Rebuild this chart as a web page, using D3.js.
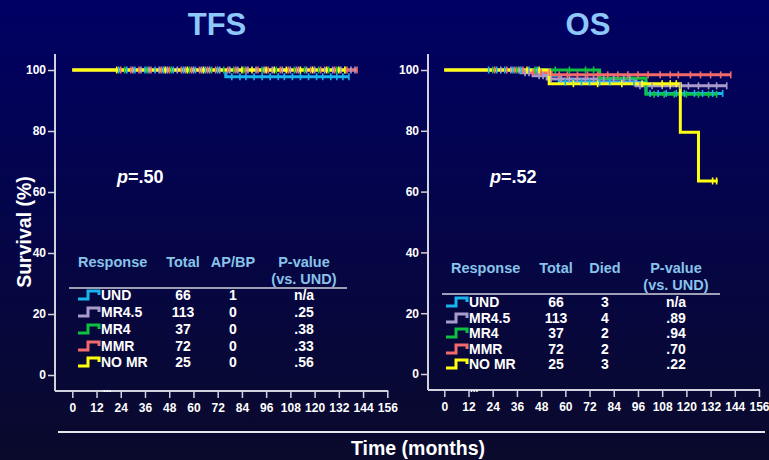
<!DOCTYPE html>
<html><head><meta charset="utf-8">
<script src="https://cdn.jsdelivr.net/npm/d3@7"></script>
<style>
html,body{margin:0;padding:0;background:#000050;}
svg{display:block;}
text{font-family:"Liberation Sans",Arial,sans-serif;font-weight:bold;}
</style></head><body>
<svg id="c" width="769" height="460"></svg>
<script>
// ---------- DATA ----------
const seriesNames = ["UND","MR4.5","MR4","MMR","NO MR"];
const seriesColors = ["#19b4ec","#a99ccc","#10c040","#f26a6a","#ffff10"];
const monthTicks = [0,12,24,36,48,60,72,84,96,108,120,132,144,156];
const survivalTicks = [0,20,40,60,80,100];

// TFS Kaplan-Meier steps [month, survival %]
const tfsSteps = [
  [[0,100],[76,97.8]],
  [[0,100]],
  [[0,100]],
  [[0,100]],
  [[0,100]]
];
const tfsEnd = [137,140,135,141,135];
const tfsCensor = [
  [23,27,31,36,41,45,50,55,61,66,72,79,83,86,90,94,98,102,105,109,113,117,121,124,128,131,134,137],
  [30,34,38,43,47,52,56,60,64,68,73,78,82,87,91,95,99,104,108,112,116,120,125,129,133,138,140],
  [26,37,49,58,69,75,80,85,94,101,110,115,122,127,131,135],
  [24,29,33,39,44,48,54,59,63,67,71,77,81,86,92,97,103,107,111,118,123,130,136,141],
  [22,46,57,65,84,89,96,100,106,113,119,126,132,135]
];

// OS Kaplan-Meier steps
const osSteps = [
  [[0,100],[50,98.3],[57,96.0],[100,92.3]],
  [[0,100],[38,99.1],[44,98.1],[51,97.0],[95,94.8]],
  [[0,100],[77,97.3],[100,92.0]],
  [[0,100],[42,99.2],[53,98.4]],
  [[0,100],[52,95.5],[117,79.5],[126,63.5]]
];
const osEnd = [138,140,135,142,135.5];
const osCensor = [
  [22,26,30,34,38,42,46,60,64,68,72,77,82,88,94,102,106,110,115,119,124,128,133,138],
  [28,33,37,40,42,47,49,53,58,62,66,70,74,79,84,89,92,97,103,108,112,117,121,126,131,135,140],
  [24,36,45,55,62,70,74,104,109,114,120,126,131,135],
  [25,31,35,39,44,48,52,57,61,66,71,76,81,86,91,96,101,107,112,116,122,127,132,137,142],
  [41,47,64,76,88,98,108,112,115,133,135]
];

// Tables
const tfsTotals = ["66","113","37","72","25"];
const tfsEvents = ["1","0","0","0","0"];
const tfsPvals = ["n/a",".25",".38",".33",".56"];
const osTotals = ["66","113","37","72","25"];
const osDied = ["3","4","2","2","3"];
const osPvals = ["n/a",".89",".94",".70",".22"];

// ---------- DRAW ----------
const svg = d3.select("#c");
const defs = svg.append("defs");
const g = defs.append("linearGradient").attr("id","bg").attr("x1",0).attr("y1",0).attr("x2",0).attr("y2",1);
g.append("stop").attr("offset","0%").attr("stop-color","#000064");
g.append("stop").attr("offset","100%").attr("stop-color","#0a0a2c");
svg.append("rect").attr("width",769).attr("height",460).attr("fill","url(#bg)");

const axisColor = "#d2d2de";
const headColor = "#88c4ea";

function panel(cfg){
  const x = d3.scaleLinear().domain([0,156]).range([cfg.x0, cfg.x1]);
  const y = d3.scaleLinear().domain([0,100]).range([cfg.y0, cfg.y100]);
  const root = svg.append("g");

  root.append("text").attr("x",cfg.titleX).attr("y",35).attr("text-anchor","middle")
    .attr("fill","#8ec8fa").style("font-size","31px").text(cfg.title);

  root.append("line").attr("x1",cfg.ax).attr("x2",cfg.ax).attr("y1",54).attr("y2",cfg.axY)
    .attr("stroke",axisColor).attr("stroke-width",2);
  root.append("line").attr("x1",cfg.ax).attr("x2",x(156)+1).attr("y1",cfg.axY).attr("y2",cfg.axY)
    .attr("stroke",axisColor).attr("stroke-width",2);

  const xa = root.append("g").attr("transform",`translate(0,${cfg.axY})`)
    .call(d3.axisBottom(x).tickValues(monthTicks).tickSize(7).tickPadding(5).tickFormat(d3.format("d")));
  xa.select(".domain").remove();
  xa.selectAll("line").attr("stroke",axisColor).attr("stroke-width",1.5);
  xa.selectAll("text").attr("fill","#fff").style("font-size","12px").style("font-family","Liberation Sans, Arial").style("font-weight","bold");

  const ya = root.append("g").attr("transform",`translate(${cfg.ax},0)`)
    .call(d3.axisLeft(y).tickValues(survivalTicks).tickSize(7).tickPadding(2));
  ya.select(".domain").remove();
  ya.selectAll("line").attr("stroke",axisColor).attr("stroke-width",1.5);
  ya.selectAll("text").attr("fill","#fff").style("font-size","12px").style("font-family","Liberation Sans, Arial").style("font-weight","bold");

  const line = d3.line().x(d=>x(d[0])).y(d=>y(d[1])).curve(d3.curveStepAfter);
  function survAt(steps,t){ let s=steps[0][1]; steps.forEach(p=>{ if(p[0]<=t) s=p[1]; }); return s; }
  seriesNames.forEach((n,i)=>{
    const steps = cfg.steps[i];
    const pts = steps.concat([[cfg.end[i], steps[steps.length-1][1]]]);
    root.append("path").attr("d",line(pts)).attr("fill","none").attr("stroke",seriesColors[i]).attr("stroke-width",3);
  });
  seriesNames.forEach((n,i)=>{
    root.append("g").selectAll("line").data(cfg.censor[i]).join("line")
      .attr("x1",d=>x(d)).attr("x2",d=>x(d))
      .attr("y1",d=>y(survAt(cfg.steps[i],d))-3.5).attr("y2",d=>y(survAt(cfg.steps[i],d))+3.5)
      .attr("stroke",seriesColors[i]).attr("stroke-width",1.6);
  });

  const pt = root.append("text").attr("x",cfg.pX).attr("y",183).attr("fill","#fff").style("font-size","18px");
  pt.append("tspan").style("font-style","italic").text("p");
  pt.append("tspan").text(cfg.pText);

  const t = cfg.table;
  const hdr = root.append("g").attr("fill",headColor).style("font-size","14.5px");
  hdr.append("text").attr("x",t.respX).attr("y",t.h1).text("Response");
  t.cols.forEach((c,k)=>{
    hdr.append("text").attr("x",c).attr("y",t.h1).attr("text-anchor","middle").text(t.heads[k]);
  });
  hdr.append("text").attr("x",t.cols[2]).attr("y",t.h2).attr("text-anchor","middle").text("(vs. UND)");
  root.append("line").attr("x1",t.lx0).attr("x2",t.lx1).attr("y1",t.ly).attr("y2",t.ly)
    .attr("stroke",axisColor).attr("stroke-width",1.5);
  seriesNames.forEach((n,i)=>{
    const cy = t.rows[i];
    const ix = t.iconX;
    root.append("path").attr("d",`M${ix},${cy+4}H${ix+10}V${cy-4}H${ix+21}V${cy}`)
      .attr("fill","none").attr("stroke",seriesColors[i]).attr("stroke-width",3);
    const rg = root.append("g").attr("fill","#fff").style("font-size","14px");
    rg.append("text").attr("x",t.textX).attr("y",cy+5).text(n);
    rg.append("text").attr("x",t.cols[0]).attr("y",cy+5).attr("text-anchor","middle").text(t.c1[i]);
    rg.append("text").attr("x",t.cols[1]).attr("y",cy+5).attr("text-anchor","middle").text(t.c2[i]);
    rg.append("text").attr("x",t.cols[2]).attr("y",cy+5).attr("text-anchor","middle").text(t.c3[i]);
  });
  root.append("text").attr("x",t.dotsX).attr("y",392).attr("fill","#fff").style("font-size","10px").text("...");
}

panel({title:"TFS", titleX:217, x0:72.3, x1:387.3, y0:375, y100:70, ax:55, axY:391,
  steps:tfsSteps, end:tfsEnd, censor:tfsCensor, pX:117, pText:"=.50",
  table:{respX:78, h1:267, h2:284, cols:[183,233,304], heads:["Total","AP/BP","P-value"],
    lx0:69, lx1:347, ly:288, rows:[295,312,329,346,362], iconX:78, textX:101,
    c1:tfsTotals, c2:tfsEvents, c3:tfsPvals, dotsX:103}});

panel({title:"OS", titleX:588, x0:444.3, x1:759, y0:374, y100:70, ax:428, axY:390,
  steps:osSteps, end:osEnd, censor:osCensor, pX:490, pText:"=.52",
  table:{respX:451, h1:273, h2:290, cols:[556,605,676], heads:["Total","Died","P-value"],
    lx0:442, lx1:720, ly:294, rows:[302,318,333,349,364], iconX:446, textX:469,
    c1:osTotals, c2:osDied, c3:osPvals, dotsX:470}});

svg.append("line").attr("x1",58).attr("x2",765).attr("y1",432).attr("y2",432).attr("stroke","#e6e6ee").attr("stroke-width",2);
svg.append("text").attr("x",418).attr("y",455).attr("text-anchor","middle").attr("fill","#fff")
  .style("font-size","19.5px").text("Time (months)");
svg.append("text").attr("transform","translate(31,232) rotate(-90)").attr("text-anchor","middle").attr("fill","#fff")
  .style("font-size","19.5px").text("Survival (%)");
</script>
</body></html>
